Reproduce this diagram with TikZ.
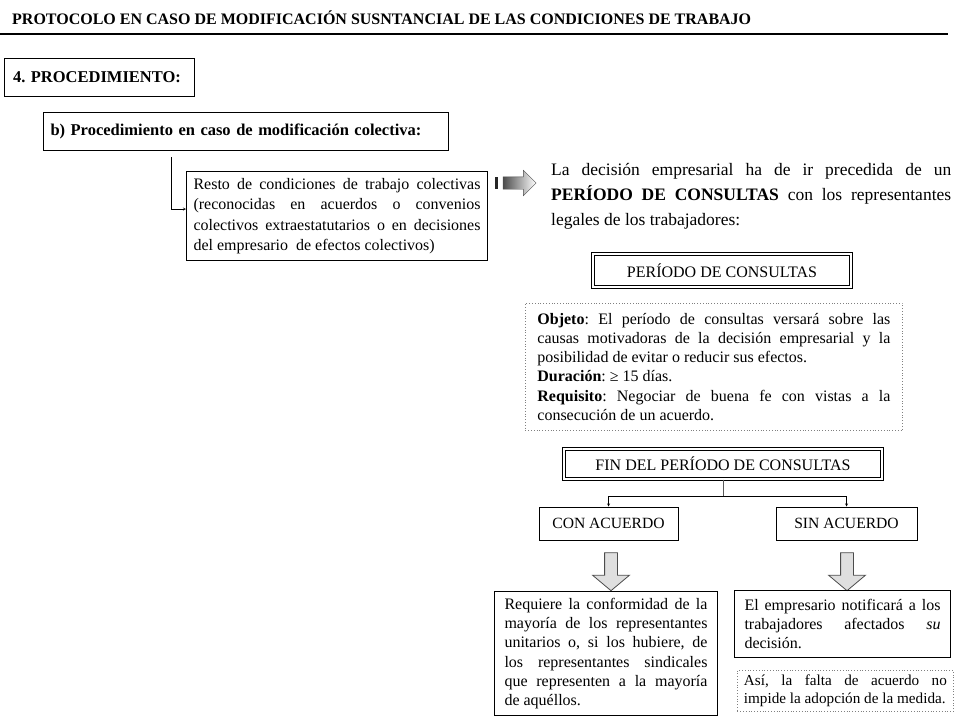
\documentclass[tikz,border=0pt]{standalone}
\usepackage{fontspec}
\setmainfont{Liberation Serif}
\usetikzlibrary{shapes.arrows,positioning,calc}
\newcommand\setfs[2]{\fontsize{#1}{#2}\selectfont}
\hyphenpenalty=10000
\exhyphenpenalty=10000
\frenchspacing

\begin{document}
\begin{tikzpicture}[x=1pt,y=-1pt,>=stealth,
  box/.style={draw,line width=1pt,inner sep=0pt,font=\setfs{16}{19.2}},
  headbox/.style={box,anchor=north west,align=left,font=\bfseries\setfs{16.5}{19},minimum height=38},
  dblbox/.style={draw,double=white,double distance=1.2pt,line width=1pt,font=\setfs{16}{19}},
  dotbox/.style={draw=gray,dotted,line width=0.8pt,inner sep=0pt},
  downarr/.style={single arrow,shape border rotate=270,draw=gray!60!black,fill=gray!25,line width=0.8pt,
    minimum height=38,single arrow head extend=12,single arrow tip angle=100,inner sep=6pt}]
\useasboundingbox (0,0) rectangle (960,720);
% heading
\node[anchor=west,inner sep=0,font=\bfseries\setfs{16}{18}] (title) at (12,18)
  {PROTOCOLO EN CASO DE MODIFICACIÓN SUSNTANCIAL DE LAS CONDICIONES DE TRABAJO};
\draw[line width=1.5pt] (0,34) -- (948,34);
\node[headbox,text width=173,inner xsep=8.5] (sec) at (4,58) {4. PROCEDIMIENTO:};
\node[headbox,text width=391,inner xsep=7] (bproc) at (43,112) {b) Procedimiento en caso de modificación colectiva:};
% collective conditions
\node[box,anchor=north west,text width=287,align=justify,inner xsep=7,minimum height=89,font=\setfs{16}{20.5}] (resto) at (186,171)
  {Resto de condiciones de trabajo colectivas\linebreak (reconocidas en acuerdos o convenios\linebreak colectivos extraestatutarios o en decisiones\linebreak del empresario \ de efectos colectivos)};
\draw[->] ([xshift=128pt,yshift=-6pt]bproc.south west) |- ([yshift=7pt]resto.west);
% striped arrow
\fill[gray!30!black] (495,177) rectangle (497.5,189);
\node[single arrow,draw=gray!60!black,left color=gray!60!black,right color=white,minimum height=33,
  single arrow head extend=6.5,inner sep=6pt] (blk) at (516.5,183) {};
\node[anchor=north west,text width=400,align=justify,inner sep=0,font=\setfs{17.5}{25}] (decision) at (551,163)
  {La decisión empresarial ha de ir precedida de un\linebreak \textbf{PERÍODO DE CONSULTAS} con los representantes\linebreak legales de los trabajadores:};
% consultation period
\node[dblbox,minimum width=258,minimum height=33] (periodo) at (722,270.5) {PERÍODO DE CONSULTAS};
\node[dotbox,anchor=north west,text width=353,align=justify,inner xsep=12,minimum height=127,font=\setfs{16}{19.2}] (objeto) at (525,303)
  {\textbf{Objeto}: El período de consultas versará sobre las\linebreak causas motivadoras de la decisión empresarial y la\linebreak posibilidad de evitar o reducir sus efectos.\\
   \textbf{Duración}: ≥ 15 días.\\
   \textbf{Requisito}: Negociar de buena fe con vistas a la\linebreak consecución de un acuerdo.};
\node[dblbox,minimum width=318,minimum height=30] (fin) at (723,464) {FIN DEL PERÍODO DE CONSULTAS};
% outcomes
\node[box,minimum width=139,minimum height=33,font=\setfs{15.6}{18}] (con) at (608.5,523.5) {CON ACUERDO};
\node[box,minimum width=141,minimum height=33,font=\setfs{15.6}{18}] (sin) at (846.5,523.5) {SIN ACUERDO};
\draw[gray!70!black,line width=1pt] (fin.south) -- ++(0,17) coordinate (split);
\draw[->] (split) -| (con.north);
\draw[->] (split) -| (sin.north);
\node[downarr] (arrcon) at (611,569) {};
\node[downarr] (arrsin) at (847,569) {};
\node[box,anchor=north west,text width=203,align=justify,inner xsep=10,minimum height=124] (requiere) at (494,591)
  {Requiere la conformidad de la\linebreak mayoría de los representantes\linebreak unitarios o, si los hubiere, de\linebreak los representantes sindicales\linebreak que representen a la mayoría\linebreak de aquéllos.};
\node[box,anchor=north west,text width=196,align=justify,inner xsep=10,minimum height=67] (empresario) at (734,590)
  {El empresario notificará a los\linebreak trabajadores afectados \textit{su}\linebreak decisión.};
\node[dotbox,anchor=north west,text width=203,align=justify,inner xsep=6.5,minimum height=41,font=\setfs{15.2}{17.5}] (asi) at (737,670)
  {Así, la falta de acuerdo no\linebreak impide la adopción de la medida.};
\end{tikzpicture}
\end{document}
